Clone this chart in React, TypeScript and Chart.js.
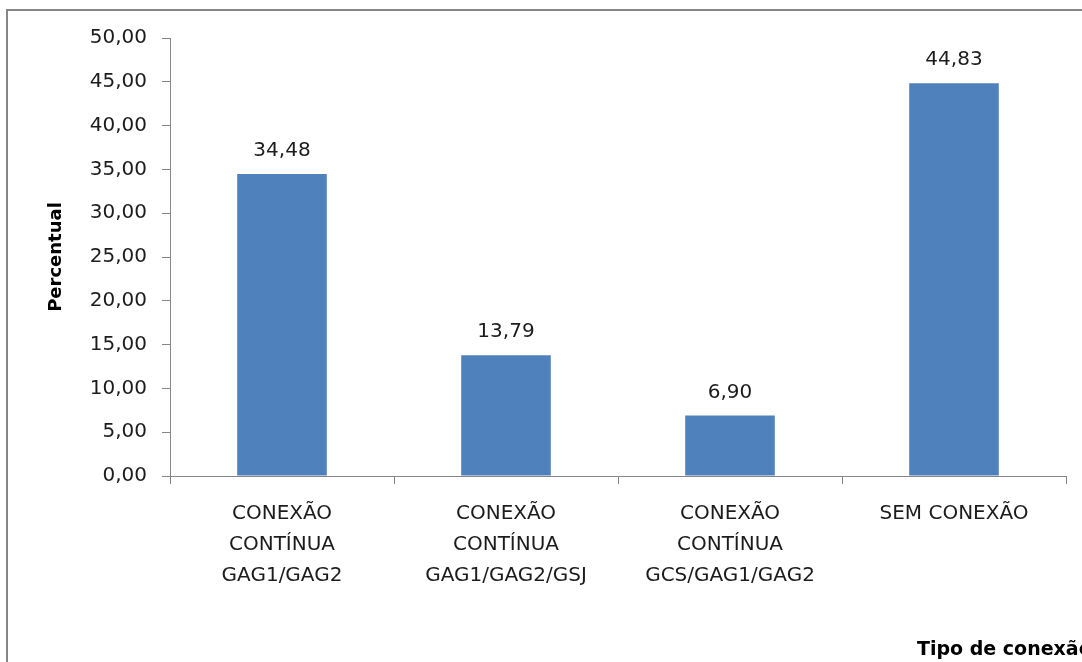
import React, { useEffect, useRef } from "react";
import { Chart, registerables } from "chart.js";

Chart.register(...registerables);

const categories: string[][] = [
  ["CONEXÃO", "CONTÍNUA", "GAG1/GAG2"],
  ["CONEXÃO", "CONTÍNUA", "GAG1/GAG2/GSJ"],
  ["CONEXÃO", "CONTÍNUA", "GCS/GAG1/GAG2"],
  ["SEM CONEXÃO"],
];
const percentValues: number[] = [34.48, 13.79, 6.9, 44.83];
const yMin = 0;
const yMax = 50;
const yStep = 5;
const yTitle = "Percentual";
const xTitle = "Tipo de conexão";

const FONT = "'DejaVu Sans', Verdana, sans-serif";
const TEXT = "#1c1c1c";
const AXIS = "#868686";

const fmt = (v: number) => v.toFixed(2).replace(".", ",");

const labelPlugin = {
  id: "valueLabels",
  afterDatasetsDraw(chart: any) {
    const { ctx } = chart;
    const meta = chart.getDatasetMeta(0);
    ctx.save();
    ctx.font = `20px ${FONT}`;
    ctx.fillStyle = TEXT;
    ctx.textAlign = "center";
    ctx.textBaseline = "alphabetic";
    meta.data.forEach((bar: any, i: number) => {
      ctx.fillText(fmt(percentValues[i]), bar.x, bar.y - 18);
    });
    ctx.restore();
  },
  afterDraw(chart: any) {
    const { ctx, chartArea } = chart;
    ctx.save();
    ctx.font = `bold 19px ${FONT}`;
    ctx.fillStyle = "#000";
    ctx.textAlign = "left";
    ctx.textBaseline = "alphabetic";
    ctx.fillText(xTitle, chartArea.right - 149, chartArea.bottom + 179);
    ctx.restore();
  },
};

export default function App() {
  const ref = useRef<HTMLCanvasElement | null>(null);
  useEffect(() => {
    if (!ref.current) return;
    const chart = new Chart(ref.current, {
      type: "bar",
      data: {
        labels: categories,
        datasets: [
          {
            data: percentValues,
            backgroundColor: "#4F81BD",
            borderColor: "#4F81BD",
            borderWidth: 0,
            categoryPercentage: 1,
            barPercentage: 0.4,
          },
        ],
      },
      options: {
        responsive: false,
        animation: false,
        devicePixelRatio: 1,
        layout: { padding: { top: 27, right: 42, bottom: 0, left: 0 } },
        plugins: {
          legend: { display: false },
          tooltip: { enabled: false },
          title: { display: false },
        },
        scales: {
          x: {
            offset: true,
            grid: {
              offset: true,
              drawOnChartArea: false,
              drawTicks: true,
              tickLength: 8,
              color: AXIS,
            },
            border: { display: true, color: AXIS, width: 1 },
            ticks: {
              font: { family: FONT, size: 20, lineHeight: 1.55 },
              color: TEXT,
              padding: 14,
              maxRotation: 0,
              autoSkip: false,
            },
            afterFit(scale: any) {
              scale.height = 215;
            },
          },
          y: {
            min: yMin,
            max: yMax,
            ticks: {
              stepSize: yStep,
              font: { family: FONT, size: 20 },
              color: TEXT,
              padding: 15,
              callback: (v: any) => fmt(Number(v)),
            },
            grid: {
              drawOnChartArea: false,
              drawTicks: true,
              tickLength: 8,
              color: AXIS,
            },
            border: { display: true, color: AXIS, width: 1 },
            title: {
              display: true,
              text: yTitle,
              color: "#000",
              font: { family: FONT, size: 18, weight: "bold" },
              padding: { top: 38, bottom: 0 },
            },
            afterFit(scale: any) {
              scale.width = 162;
            },
          },
        },
      },
      plugins: [labelPlugin],
    });
    return () => chart.destroy();
  }, []);

  return (
    <div
      style={{
        position: "fixed",
        left: 0,
        top: 0,
        width: 1082,
        height: 662,
        overflow: "hidden",
        background: "#fff",
      }}
    >
      <div
        style={{
          position: "absolute",
          left: 6,
          top: 9,
          width: 1100,
          height: 700,
          border: `2px solid ${AXIS}`,
          background: "#fff",
        }}
      >
        <canvas ref={ref} width={1100} height={680} style={{ display: "block" }} />
      </div>
    </div>
  );
}
